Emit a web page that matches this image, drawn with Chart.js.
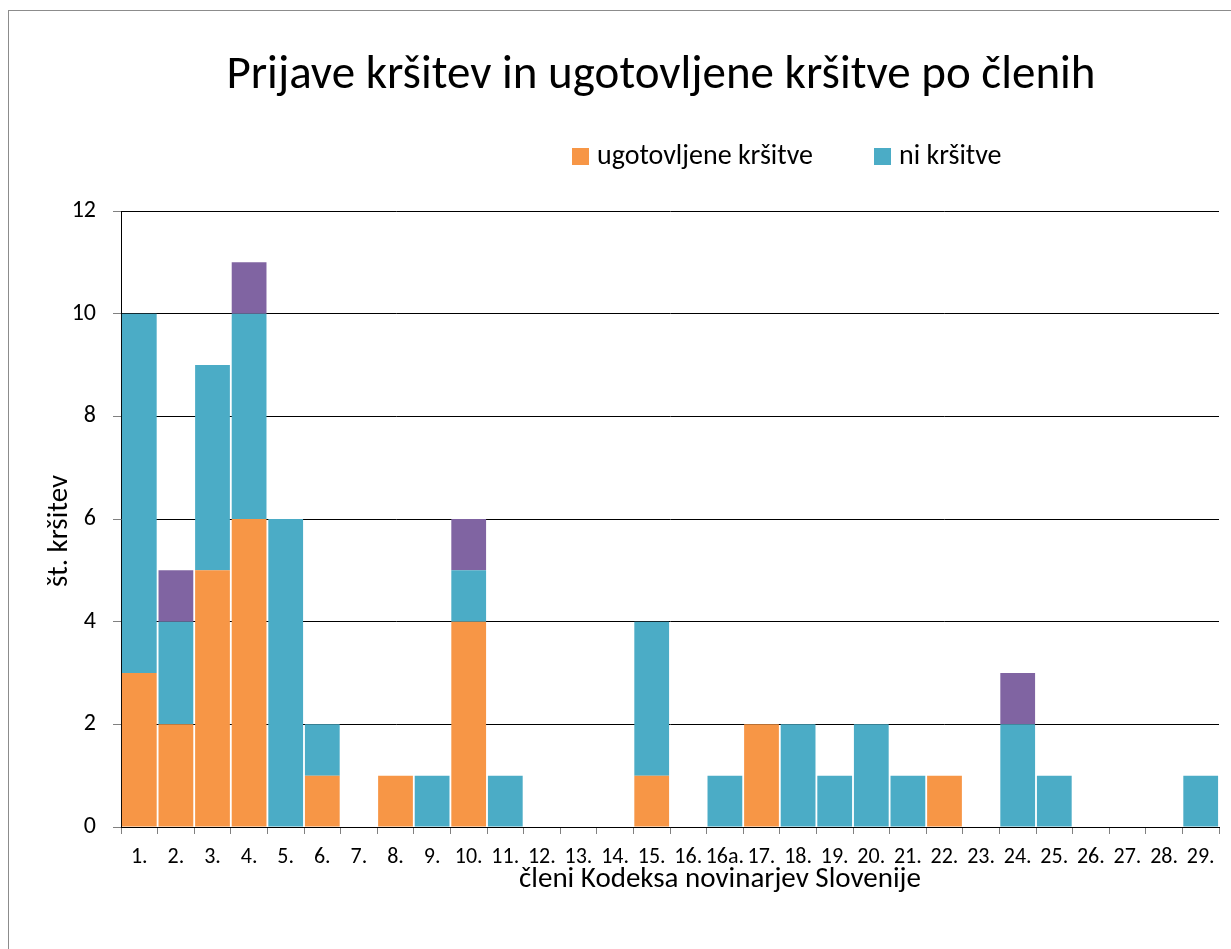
<!DOCTYPE html>
<html>
<head>
<meta charset="utf-8">
<script src="https://cdn.jsdelivr.net/npm/chart.js@4"></script>
<style>
  html, body { margin: 0; padding: 0; background: #fff; overflow: hidden; }
  #wrap { position: absolute; left: 0; top: 0; width: 1231px; height: 949px; }
  #frame { position: absolute; left: 8px; top: 10px; width: 1240px; height: 960px; border: 1.5px solid #8c8c8c; box-sizing: border-box; }
  canvas { position: absolute; left: 0; top: 0; }
</style>
</head>
<body>
<div id="wrap">
  <div id="frame"></div>
  <canvas id="c" width="1231" height="949"></canvas>
</div>
<script>
const chartTitle = "Prijave kršitev in ugotovljene kršitve po členih";
const xTitle = "členi Kodeksa novinarjev Slovenije";
const yTitle = "št. kršitev";
const categories = ["1.","2.","3.","4.","5.","6.","7.","8.","9.","10.","11.","12.","13.","14.","15.","16.","16a.","17.","18.","19.","20.","21.","22.","23.","24.","25.","26.","27.","28.","29."];
const seriesNames = ["ugotovljene kršitve", "ni kršitve", ""];
const ugotovljene = [3,2,5,6,0,1,0,1,0,4,0,0,0,0,1,0,0,2,0,0,0,0,1,0,0,0,0,0,0,0];
const niKrsitve   = [7,2,4,4,6,1,0,0,1,1,1,0,0,0,3,0,1,0,2,1,2,1,0,0,2,1,0,0,0,1];
const ostalo      = [0,1,0,1,0,0,0,0,0,1,0,0,0,0,0,0,0,0,0,0,0,0,0,0,1,0,0,0,0,0];
const yTicks = [0,2,4,6,8,10,12];
const colors = ["#F79646", "#4BACC6", "#8064A2"];

const FONT = "Carlito, Lato, 'Open Sans', sans-serif";

const textPlugin = {
  id: 'texts',
  afterDraw(chart) {
    const ctx = chart.ctx;
    ctx.save();
    ctx.fillStyle = '#000';
    // title
    ctx.font = "47px " + FONT;
    ctx.textAlign = 'center';
    ctx.textBaseline = 'middle';
    ctx.fillText(chartTitle, 661, 76);
    // legend (first two series)
    ctx.font = "28px " + FONT;
    ctx.textAlign = 'left';
    const legX = [572, 874];
    for (let i = 0; i < 2; i++) {
      ctx.fillStyle = colors[i];
      ctx.fillRect(legX[i], 148, 17, 17);
      ctx.fillStyle = '#000';
      ctx.fillText(seriesNames[i], legX[i] + 25, 157);
    }
    // x title
    ctx.font = "29px " + FONT;
    ctx.textAlign = 'center';
    ctx.fillText(xTitle, 720, 880);
    // y title
    ctx.translate(60, 531);
    ctx.rotate(-Math.PI / 2);
    ctx.fillText(yTitle, 0, 0);
    ctx.restore();
  }
};

const datasets = [ugotovljene, niKrsitve, ostalo].map((d, i) => ({
  label: seriesNames[i],
  data: d,
  backgroundColor: colors[i],
  borderWidth: 0,
  categoryPercentage: 1.0,
  barPercentage: 0.95,
  stack: 's'
}));

new Chart(document.getElementById('c'), {
  type: 'bar',
  data: { labels: categories, datasets },
  options: {
    responsive: false,
    animation: false,
    layout: { padding: { left: 0, right: 12, top: 211, bottom: 0 } },
    plugins: { legend: { display: false }, title: { display: false }, tooltip: { enabled: false } },
    scales: {
      x: {
        stacked: true,
        afterFit: (s) => { s.height = 122; },
        grid: { display: true, drawOnChartArea: false, offset: true, tickLength: 7, tickColor: '#808080', color: '#808080' },
        border: { display: true, color: '#000', width: 1 },
        ticks: { font: { size: 22, family: FONT }, color: '#000', maxRotation: 0, minRotation: 0, autoSkip: false, padding: 10 }
      },
      y: {
        stacked: true,
        min: 0, max: 12,
        afterFit: (s) => { s.width = 121; },
        afterBuildTicks: (s) => { s.ticks = yTicks.map(v => ({ value: v })); },
        grid: { color: '#000', lineWidth: 1, tickLength: 8, tickColor: '#808080' },
        border: { display: true, color: '#000', width: 1 },
        ticks: { font: { size: 24, family: FONT }, color: '#000', padding: 17 }
      }
    }
  },
  plugins: [textPlugin]
});
</script>
</body>
</html>
